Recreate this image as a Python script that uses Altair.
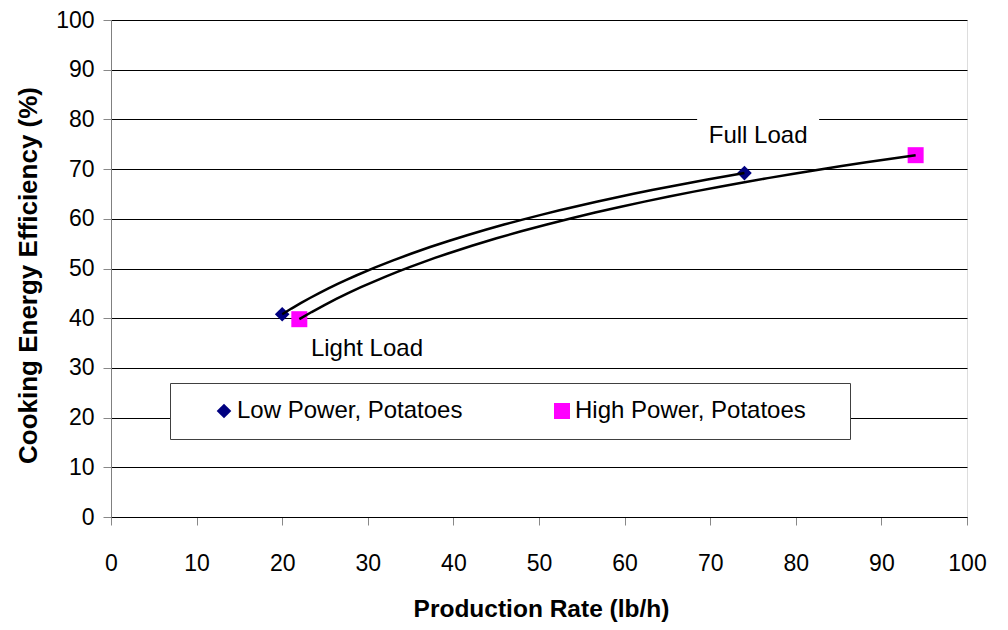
import altair as alt
import pandas as pd

# ---- data ----
series = ["Low Power, Potatoes", "Low Power, Potatoes",
          "High Power, Potatoes", "High Power, Potatoes"]
rate = [20, 74, 22, 94]            # lb/h
efficiency = [40.8, 69.2, 39.8, 72.8]  # %

ann_text = ["Full Load", "Light Load"]
ann_x = [75.6, 29.9]
ann_y = [76.6, 33.8]

series_order = ["Low Power, Potatoes", "High Power, Potatoes"]
series_colors = ["#000080", "#FF00FF"]
series_shapes = ["diamond", "square"]

x_ticks = list(range(0, 101, 10))
y_ticks = list(range(0, 101, 10))

df = pd.DataFrame({"series": series, "rate": rate, "eff": efficiency})
ann = pd.DataFrame({"text": ann_text, "x": ann_x, "y": ann_y})

FONT = "Liberation Sans"

xscale = alt.Scale(domain=[0, 100], nice=False)
yscale = alt.Scale(domain=[0, 100], nice=False)

xaxis = alt.Axis(values=x_ticks, title="Production Rate (lb/h)", grid=False,
                 labelFontSize=23, labelPadding=27, tickSize=8, labelFlush=False,
                 titleX=430, titleY=92, titleBaseline="middle", titleAlign="center",
                 titleFontSize=24.5, domainColor="black")
yaxis = alt.Axis(values=y_ticks, title="Cooking Energy Efficiency (%)", grid=True,
                 gridColor="#000000", gridOpacity=1, gridWidth=1,
                 labelFontSize=23, labelPadding=9, tickSize=8, labelFlush=False,
                 titleX=-83, titleY=255, titleAngle=270, titleAlign="center",
                 titleBaseline="middle", titleFontSize=26,
                 domainColor="#808080")

base = alt.Chart(df)

points = base.mark_point(filled=True, opacity=1).encode(
    x=alt.X("rate:Q", scale=xscale, axis=xaxis),
    y=alt.Y("eff:Q", scale=yscale, axis=yaxis),
    color=alt.Color("series:N",
                    scale=alt.Scale(domain=series_order, range=series_colors),
                    legend=alt.Legend(orient="none", legendX=59, legendY=363,
                                      direction="horizontal", title=" ",
                                      titleOrient="right", titlePadding=28,
                                      titleFontSize=10,
                                      fillColor="white", strokeColor="#404040",
                                      padding=16, symbolOffset=26,
                                      columnPadding=61, labelOffset=1,
                                      labelFontSize=24, labelFont=FONT,
                                      labelLimit=600,
                                      symbolSize=190, symbolStrokeWidth=0)),
    shape=alt.Shape("series:N",
                    scale=alt.Scale(domain=series_order, range=series_shapes)),
    size=alt.Size("series:N",
                  scale=alt.Scale(domain=series_order, range=[215, 256]),
                  legend=None),
)

curves = base.transform_regression(
    "rate", "eff", method="log", groupby=["series"]
).mark_line(color="black", strokeWidth=2.5).encode(
    x=alt.X("rate:Q", scale=xscale),
    y=alt.Y("eff:Q", scale=yscale),
    detail="series:N",
)

label_bg = alt.Chart(ann).mark_point(
    shape="M-1,-0.3L1,-0.3L1,0.3L-1,0.3Z", filled=True, fill="white",
    opacity=1, strokeWidth=0, size=14884
).encode(x=alt.X("x:Q", scale=xscale), y=alt.Y("y:Q", scale=yscale))

labels = alt.Chart(ann).mark_text(
    font=FONT, fontSize=24, color="black", align="center", baseline="middle"
).encode(x=alt.X("x:Q", scale=xscale), y=alt.Y("y:Q", scale=yscale),
         text="text:N")

chart = alt.layer(label_bg, points, curves, labels).properties(
    width=856, height=497,
    autosize=alt.AutoSizeParams(type="none"),
    padding={"left": 103, "top": 12, "right": 33, "bottom": 105},
).configure_view(stroke=None).configure_axis(
    labelFont=FONT, titleFont=FONT, labelColor="black", titleColor="black",
    tickColor="black", gridColor="black",
    gridOpacity=1, gridWidth=1, titleFontWeight="bold",
).configure(background="white")

chart.save("out.html", embed_options={"renderer": "svg", "actions": False})
